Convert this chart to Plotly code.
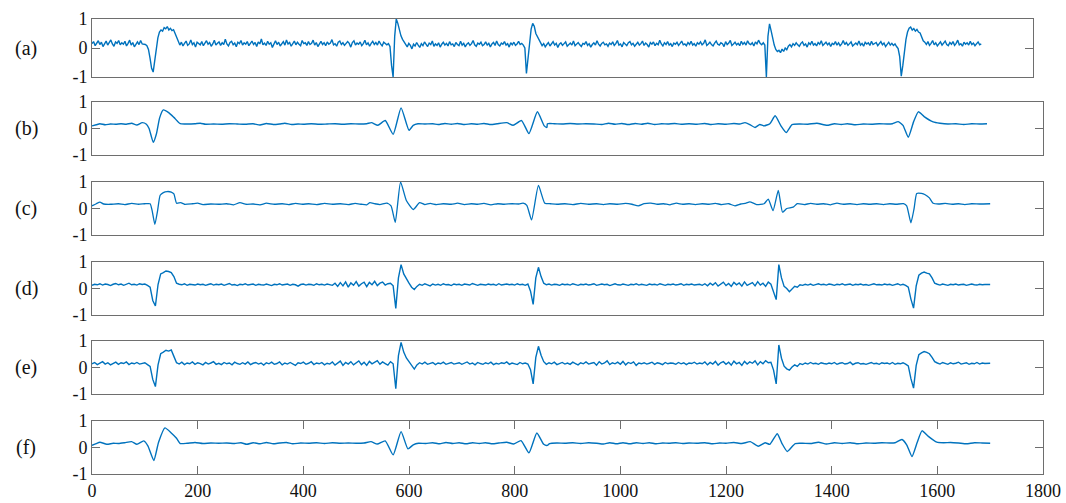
import numpy as np
import plotly.graph_objects as go

# ---------------- data (amplitudes in hundredths) ----------------
# (a) noisy signal, one value every 3 samples starting at 0
a_step = 3
a_vals = [
    15, 22, 8, 18, 25, 12, 20, 5, 17, 24,
    10, 19, 28, 14, 6, 21, 16, 26, 11, 18,
    13, 23, 7, 16, 27, 10, 19, 4, 15, 21,
    12, 26, 14, 14, 12, 8, -5, -35, -70, -83,
    -45, 5, 35, 55, 62, 58, 70, 66, 74, 62,
    68, 60, 63, 50, 35, 18, 10, 20, 7, 16,
    24, 9, 14, 28, 12, 18, 3, 20, 15, 11,
    22, 8, 17, 25, 13, 19, 6, 14, 27, 10,
    16, 21, 9, 18, 12, 30, 14, 7, 19, 23,
    11, 17, 4, 20, 15, 26, 10, 18, 13, 22,
    8, 16, 24, 12, 19, 5, 21, 14, 31, 11,
    17, 9, 23, 13, 18, 2, 16, 25, 12, 20,
    7, 15, 22, 10, 28, 14, 19, 6, 17, 24,
    11, 20, 13, 8, 26, 15, 18, 9, 22, 12,
    16, 27, 10, 19, 5, 14, 23, 12, 18, 8,
    21, 13, 17, 29, 11, 15, 6, 20, 24, 12,
    18, 9, 14, 22, 16, 3, 19, 25, 10, 17,
    13, 21, 8, 15, 27, 11, 18, 6, 16, 23,
    12, 19, 10, 24, 14, 7, 20, 16, 11, 15,
    5, -60, -100, 40, 100, 85, 60, 42, 30, 22,
    12, 4, 16, 9, -3, 13, 7, 19, 10, 2,
    15, 8, 21, 11, 5, 17, 12, 24, 6, 14,
    9, 18, 3, 13, 20, 10, 16, 7, 22, 11,
    14, 5, 19, 12, 8, 23, 10, 16, 4, 13,
    18, 9, 15, 26, 11, 6, 17, 13, 20, 8,
    12, 21, 10, 16, 4, 14, 19, 9, 24, 12,
    7, 17, 13, 22, 10, 15, 3, 18, 11, 20,
    9, 14, 23, 12, 16, 10, 0, -88, -30, 30,
    65, 85, 75, 50, 38, 28, 18, 8, 15, 4,
    12, 19, 7, 14, 22, 10, 16, 2, 13, 18,
    9, 15, 21, 6, 12, 17, 10, 24, 8, 14,
    19, 11, 5, 16, 13, 22, 9, 15, 3, 12,
    18, 10, 25, 13, 7, 16, 20, 11, 14, 6,
    17, 12, 21, 9, 15, 26, 10, 14, 4, 19,
    13, 8, 18, 22, 11, 16, 6, 14, 20, 10,
    15, 24, 9, 17, 12, 3, 19, 13, 21, 8,
    16, 11, 27, 14, 7, 18, 12, 22, 10, 15,
    5, 17, 13, 20, 9, 16, 24, 11, 14, 8,
    19, 12, 23, 10, 15, 6, 18, 13, 21, 11,
    16, 28, 9, 14, 20, 12, 7, 17, 24, 13,
    10, 18, 15, 5, 22, 12, 17, 26, 9, 14,
    20, 11, 16, 8, 23, 13, 19, 10, 25, 15,
    12, 18, 7, 21, 14, 27, 16, 11, 18, 10,
    -100, 40, 83, 60, 30, 10, -5, -12, -8, -16,
    -4, -12, 0, -6, 6, 12, 4, 15, 9, 18,
    11, 6, 16, 21, 9, 14, 3, 18, 12, 23,
    10, 15, 7, 19, 13, 25, 9, 14, 20, 11,
    17, 5, 16, 12, 22, 10, 18, 8, 14, 26,
    12, 19, 9, 15, 21, 7, 13, 17, 11, 24,
    10, 16, 6, 20, 14, 18, 9, 23, 12, 15,
    19, 8, 14, 22, 11, 17, 5, 13, 20, 10,
    16, 9, 14, 5, -2, -30, -97, -60, -10, 30,
    55, 68, 72, 62, 67, 58, 64, 55, 52, 40,
    25, 20, 12, 22, 9, 16, 26, 11, 18, 7,
    14, 21, 10, 17, 24, 12, 8, 19, 13, 22,
    9, 16, 27, 11, 15, 6, 20, 13, 18, 10,
    23, 12, 17, 8, 15, 21, 11, 14,
]

# (b) smooth signal, (sample, value) pairs
b_pts = [
    (0, 10), (8, 14), (15, 18), (25, 14), (35, 17), (45, 16), (55, 18), (65, 16),
    (75, 20), (85, 13), (95, 22), (103, 16), (108, 0), (116, -52), (122, -20),
    (128, 40), (135, 70), (145, 60), (155, 42), (167, 18), (180, 17), (195, 18),
    (205, 20), (215, 16), (230, 17), (245, 16), (260, 18), (275, 17), (290, 16),
    (305, 18), (318, 13), (330, 19), (343, 15), (355, 17), (365, 20), (378, 15),
    (390, 17), (400, 16), (415, 18), (430, 16), (445, 17), (460, 18), (475, 16),
    (490, 18), (505, 17), (520, 18), (529, 22), (541, 12), (555, 30), (570, -22),
    (585, 78), (600, -7), (608, 12), (617, 18), (630, 17), (645, 18), (655, 15),
    (668, 19), (680, 16), (692, 19), (705, 15), (718, 18), (730, 16), (742, 19),
    (755, 15), (767, 18), (785, 22), (797, 12), (813, 30), (827, -19), (843, 63),
    (856, 10), (861, 4), (862, 18), (875, 18), (890, 17), (905, 19), (920, 17),
    (935, 18), (950, 17), (965, 15), (978, 20), (990, 16), (1003, 19), (1015, 15),
    (1028, 19), (1040, 16), (1052, 20), (1065, 15), (1078, 18), (1090, 17),
    (1103, 19), (1115, 16), (1130, 18), (1145, 16), (1160, 19), (1172, 15),
    (1185, 18), (1200, 16), (1215, 19), (1226, 17), (1236, 22), (1245, 15),
    (1255, 4), (1264, 15), (1272, 10), (1283, 18), (1293, 48), (1304, 10),
    (1314, -15), (1325, 15), (1340, 17), (1355, 16), (1372, 20), (1391, 12),
    (1405, 18), (1418, 15), (1430, 18), (1445, 14), (1460, 17), (1475, 16),
    (1490, 18), (1505, 17), (1515, 18), (1526, 26), (1535, 12), (1545, -33),
    (1555, 25), (1564, 63), (1575, 45), (1592, 25), (1605, 20), (1620, 17),
    (1635, 18), (1650, 15), (1665, 18), (1680, 17), (1694, 18),
]

# (c) smooth signal, (sample, value) pairs
c_pts = [
    (0, 10), (8, 18), (15, 24), (22, 17), (35, 16), (50, 18), (62, 15), (75, 19),
    (88, 16), (100, 18), (110, 18), (114, -10), (119, -60), (124, -10), (129, 50),
    (135, 60), (142, 64), (150, 62), (155, 55), (160, 20), (168, 22), (175, 16),
    (190, 18), (200, 20), (210, 15), (225, 17), (240, 16), (255, 18), (268, 14),
    (280, 22), (292, 16), (305, 17), (318, 14), (330, 20), (345, 16), (360, 18),
    (372, 15), (385, 19), (398, 16), (410, 18), (425, 15), (440, 19), (455, 16),
    (470, 18), (485, 15), (498, 19), (510, 16), (520, 14), (526, 22), (535, 18),
    (545, 15), (558, 20), (566, 10), (574, -52), (584, 100), (595, 30), (608, -4),
    (620, 22), (630, 15), (640, 19), (652, 15), (665, 18), (680, 16), (692, 20),
    (705, 15), (718, 18), (730, 16), (742, 19), (755, 14), (768, 18), (780, 16),
    (795, 18), (808, 17), (816, 20), (823, 12), (832, -43), (845, 87), (857, 20),
    (868, 18), (880, 16), (895, 18), (910, 15), (925, 19), (940, 16), (955, 18),
    (968, 15), (980, 18), (995, 16), (1010, 19), (1022, 16), (1034, 10), (1045, 18),
    (1058, 20), (1070, 16), (1082, 18), (1094, 14), (1106, 20), (1118, 16),
    (1130, 18), (1142, 15), (1155, 18), (1168, 16), (1180, 19), (1192, 15),
    (1205, 18), (1217, 10), (1228, 17), (1238, 20), (1245, 25), (1258, 15),
    (1272, 18), (1280, 35), (1289, -8), (1299, 68), (1307, -14), (1315, 0),
    (1327, 5), (1335, 18), (1348, 15), (1360, 19), (1372, 16), (1385, 18),
    (1398, 14), (1410, 20), (1422, 16), (1435, 18), (1448, 15), (1460, 18),
    (1472, 16), (1485, 18), (1498, 15), (1510, 18), (1522, 16), (1536, 18),
    (1542, 10), (1550, -54), (1556, 0), (1561, 57), (1570, 57), (1577, 52),
    (1585, 40), (1592, 20), (1602, 17), (1615, 19), (1628, 16), (1640, 18),
    (1652, 15), (1665, 18), (1680, 17), (1700, 18),
]

# (d) mildly noisy signal, one value every 5 samples
d_step = 5
d_vals = [
    12, 16, 14, 18, 13, 17, 15, 11, 16, 19,
    14, 17, 12, 15, 20, 14, 16, 13, 18, 15,
    17, 12, 5, -45, -66, 15, 55, 60, 66, 64,
    60, 45, 20, 16, 14, 18, 12, 16, 15, 13,
    17, 14, 16, 12, 15, 18, 13, 16, 14, 17,
    12, 16, 19, 13, 15, 11, 16, 14, 18, 13,
    15, 17, 12, 16, 14, 13, 17, 15, 11, 16,
    14, 18, 13, 15, 17, 12, 16, 14, 9, 15,
    17, 13, 16, 15, 12, 18, 14, 16, 13, 17,
    15, 12, 20, 8, 22, 10, 25, 5, 21, 12,
    26, 9, 18, 24, 7, 23, 14, 27, 11, 20,
    24, 13, 18, 20, 10, -75, 40, 90, 55, 35,
    20, 5, -4, 8, 16, 12, 18, 14, 10, 17,
    13, 16, 12, 18, 14, 15, 11, 17, 14, 16,
    12, 17, 15, 13, 19, 14, 12, 16, 15, 13,
    17, 14, 16, 12, 18, 13, 15, 17, 14, 16,
    13, 18, 14, 16, 12, 17, -10, -60, 40, 80,
    45, 20, 14, 17, 13, 16, 15, 12, 17, 14,
    16, 13, 18, 15, 12, 16, 14, 17, 13, 15,
    18, 12, 15, 17, 14, 16, 11, 15, 18, 14,
    13, 17, 15, 12, 16, 14, 18, 13, 16, 15,
    12, 17, 14, 16, 13, 18, 15, 12, 16, 14,
    17, 13, 15, 18, 12, 16, 14, 17, 13, 15,
    16, 12, 18, 10, 20, 13, 22, 9, 17, 24,
    11, 19, 8, 23, 14, 21, 9, 25, 12, 18,
    22, 10, 26, 13, 20, 8, 24, 16, -10, -42,
    90, 40, 8, 0, -12, -2, 8, 5, 14, 12,
    16, 13, 17, 12, 15, 18, 14, 16, 13, 17,
    15, 12, 16, 14, 18, 13, 15, 17, 12, 16,
    14, 17, 13, 15, 12, 16, 18, 14, 15, 13,
    17, 14, 16, 12, 15, 18, 13, 16, 12, 5,
    -40, -74, 10, 50, 58, 62, 58, 55, 40, 20,
    16, 13, 17, 15, 12, 16, 14, 17, 13, 15,
    16, 12, 15, 17, 14, 13, 16, 14, 15, 16,
    15,
]

# (e) noisy signal, one value every 5 samples
e_step = 5
e_vals = [
    14, 19, 11, 17, 22, 13, 18, 10, 16, 20,
    12, 18, 15, 21, 11, 17, 14, 19, 13, 16,
    18, 11, 4, -45, -72, 10, 52, 58, 65, 62,
    66, 42, 18, 13, 20, 11, 17, 14, 21, 12,
    18, 15, 10, 19, 13, 17, 22, 12, 16, 11,
    19, 14, 17, 10, 20, 15, 12, 18, 13, 21,
    11, 16, 19, 13, 17, 9, 18, 14, 20, 12,
    15, 21, 10, 17, 13, 19, 14, 8, 18, 15,
    20, 12, 16, 22, 11, 17, 14, 19, 10, 16,
    13, 21, 9, 18, 24, 8, 19, 13, 22, 10,
    17, 25, 11, 20, 8, 23, 14, 19, 26, 12,
    21, 15, 9, 22, 14, -80, 45, 95, 58, 36,
    22, 4, -6, 10, 18, 13, 20, 12, 16, 19,
    11, 17, 14, 20, 12, 16, 19, 13, 15, 18,
    12, 16, 21, 13, 17, 10, 19, 15, 12, 18,
    14, 20, 11, 16, 13, 18, 15, 21, 12, 17,
    15, 11, 19, 14, 17, 13, -8, -62, 38, 80,
    46, 22, 12, 18, 14, 20, 11, 16, 19, 13,
    17, 12, 20, 15, 10, 18, 14, 21, 13, 16,
    19, 9, 22, 13, 17, 25, 11, 18, 14, 20,
    12, 23, 10, 19, 15, 21, 8, 17, 14, 18,
    13, 16, 20, 12, 18, 15, 11, 19, 14, 17,
    16, 12, 19, 14, 18, 11, 17, 15, 20, 13,
    17, 14, 21, 10, 19, 13, 23, 9, 18, 22,
    12, 20, 9, 24, 14, 19, 8, 23, 13, 21,
    16, 25, 10, 22, 14, 26, 18, 20, -10, -62,
    85, 35, 5, -5, -10, 2, 10, 4, 15, 11,
    17, 13, 19, 14, 16, 12, 18, 15, 13, 17,
    14, 19, 12, 16, 18, 13, 15, 20, 11, 16,
    18, 13, 15, 12, 17, 19, 14, 16, 12, 18,
    15, 17, 13, 19, 12, 16, 14, 18, 13, 6,
    -42, -78, 8, 48, 55, 60, 57, 52, 38, 22,
    17, 13, 19, 15, 12, 18, 14, 16, 20, 13,
    15, 18, 12, 16, 14, 19, 13, 17, 15, 16,
    16,
]

# (f) smooth signal, (sample, value) pairs
f_pts = [
    (0, 8), (8, 15), (15, 20), (28, 12), (40, 16), (50, 15), (62, 18), (75, 22),
    (85, 12), (98, 25), (106, 5), (117, -49), (126, 20), (138, 74), (150, 55),
    (160, 35), (167, 15), (180, 16), (195, 19), (210, 15), (225, 17), (240, 16),
    (255, 17), (270, 15), (282, 18), (293, 12), (305, 18), (318, 14), (330, 19),
    (343, 14), (355, 17), (368, 19), (380, 14), (395, 17), (410, 16), (425, 18),
    (440, 15), (455, 18), (470, 16), (485, 17), (500, 16), (515, 17), (528, 22),
    (540, 13), (555, 25), (570, -28), (585, 60), (598, -5), (608, 10), (618, 16),
    (632, 15), (645, 18), (658, 14), (670, 19), (683, 15), (695, 18), (708, 14),
    (720, 18), (733, 15), (745, 18), (758, 14), (770, 17), (785, 20), (798, 13),
    (812, 26), (827, -20), (842, 55), (855, 12), (862, 8), (866, 15), (880, 17),
    (895, 16), (910, 18), (925, 15), (940, 18), (955, 16), (968, 13), (980, 18),
    (993, 14), (1005, 18), (1018, 14), (1030, 18), (1043, 15), (1055, 18),
    (1068, 14), (1080, 17), (1092, 16), (1105, 18), (1118, 15), (1130, 17),
    (1145, 16), (1160, 18), (1175, 14), (1188, 17), (1200, 16), (1215, 19),
    (1230, 15), (1246, 22), (1261, 5), (1274, 18), (1283, 12), (1297, 52),
    (1306, 15), (1316, -15), (1331, 15), (1345, 16), (1360, 15), (1375, 20),
    (1390, 13), (1405, 18), (1420, 15), (1435, 18), (1450, 14), (1465, 17),
    (1480, 16), (1495, 18), (1510, 17), (1520, 18), (1533, 30), (1542, 10),
    (1552, -34), (1562, 20), (1571, 63), (1583, 42), (1599, 20), (1612, 18),
    (1625, 19), (1640, 17), (1655, 14), (1670, 18), (1685, 17), (1700, 16),
]

panel_labels = ["(a)", "(b)", "(c)", "(d)", "(e)", "(f)"]
y_tickvals = [-1, 0, 1]
y_ticktext = ["-1", "0", "1"]
x_tickvals = [0, 200, 400, 600, 800, 1000, 1200, 1400, 1600, 1800]
x_ticktext = [str(v) for v in x_tickvals]

# ---------------- build series ----------------
def uniform(vals, step):
    v = np.array(vals, dtype=float) / 100.0
    return np.arange(len(v)) * step, v

def pairs(pts):
    arr = np.array(pts, dtype=float)
    return arr[:, 0], arr[:, 1] / 100.0

series = [
    uniform(a_vals, a_step),
    pairs(b_pts),
    pairs(c_pts),
    uniform(d_vals, d_step),
    uniform(e_vals, e_step),
    pairs(f_pts),
]
shapes = ["linear", "spline", "spline", "linear", "linear", "spline"]

W, H = 1066, 503
# panel frames in pixels: (left, right, top, bottom)
frames = [
    (92, 1033, 19, 77),
    (92, 1043, 102, 155),
    (92, 1043, 182, 235),
    (92, 1043, 262, 315),
    (92, 1043, 341, 394),
    (92, 1043, 421, 474),
]
widths = [1.4, 1.4, 1.3, 1.4, 1.4, 1.4]

LINE = "#0072BD"
AX = "#6e6e6e"
FONT = "Liberation Serif"

fig = go.Figure()
layout = dict(
    width=W, height=H, autosize=False,
    margin=dict(l=0, r=0, t=0, b=0, pad=0),
    paper_bgcolor="white", plot_bgcolor="white",
    showlegend=False,
    font=dict(family=FONT, size=18, color="#111"),
)
annotations = []
for i, ((x, y), (l, r, t, b)) in enumerate(zip(series, frames)):
    n = "" if i == 0 else str(i + 1)
    line = dict(color=LINE, width=widths[i], shape=shapes[i])
    if shapes[i] == "spline":
        line["smoothing"] = 0.5
    fig.add_trace(go.Scatter(
        x=x, y=y, mode="lines", line=line,
        xaxis="x" + n, yaxis="y" + n,
    ))
    last = (i == len(series) - 1)
    xa = dict(
        domain=[l / W, r / W], range=[0, 1800], anchor="y" + n,
        automargin=False,
        showgrid=False, zeroline=False, showline=True, linecolor=AX, linewidth=1,
        mirror="ticks",
        tickvals=x_tickvals if last else [],
        ticktext=x_ticktext if last else [],
        ticks="inside" if last else "", ticklen=8, tickcolor=AX,
        showticklabels=last,
        tickfont=dict(family=FONT, size=18, color="#111"),
    )
    ya = dict(
        domain=[1 - b / H, 1 - t / H], range=[-1, 1], anchor="x" + n,
        automargin=False,
        showgrid=False, zeroline=False, showline=True, linecolor=AX, linewidth=1,
        mirror="ticks", tickvals=y_tickvals, ticktext=y_ticktext,
        ticks="inside", ticklen=8, tickcolor=AX,
        tickfont=dict(family=FONT, size=18, color="#111"),
    )
    layout["xaxis" + n] = xa
    layout["yaxis" + n] = ya
    annotations.append(dict(
        text=panel_labels[i], xref="paper", yref="paper",
        x=26 / W, y=1 - ((t + b) / 2) / H, xanchor="center", yanchor="middle",
        showarrow=False, font=dict(family=FONT, size=20, color="#111"),
    ))
layout["annotations"] = annotations
fig.update_layout(**layout)
fig.write_html(
    "out.html",
    config={"displayModeBar": False},
    post_script=(
        "document.body.style.margin='0px';"
        "document.body.style.overflow='hidden';"
        "document.documentElement.style.overflow='hidden';"
    ),
)
